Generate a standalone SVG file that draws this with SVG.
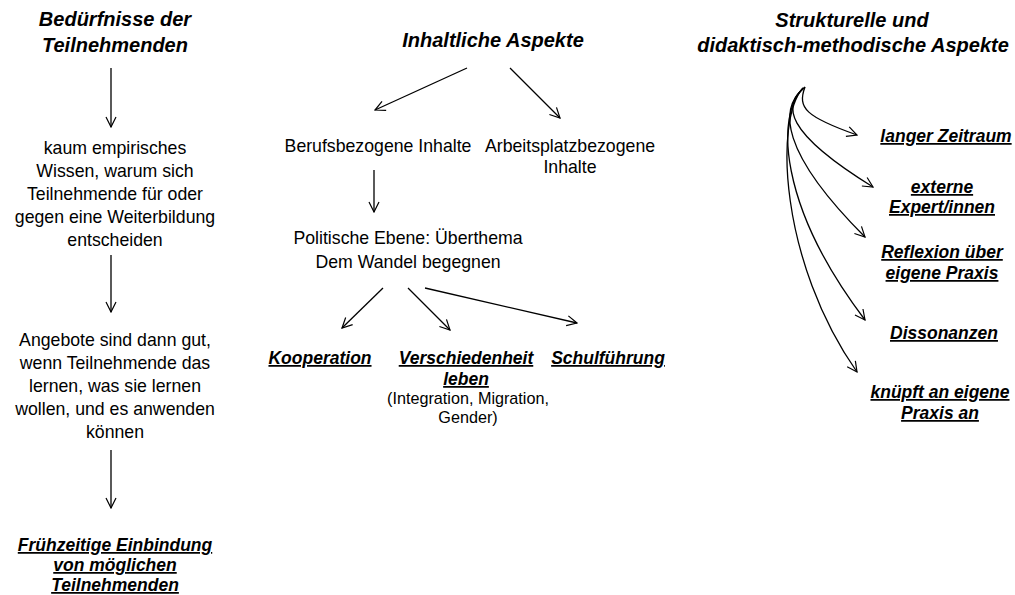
<svg xmlns="http://www.w3.org/2000/svg" width="1015" height="595" viewBox="0 0 1015 595">
<defs>
<marker id="ah" markerUnits="userSpaceOnUse" markerWidth="12" markerHeight="12" viewBox="0 0 12 12" refX="11" refY="6" orient="auto">
<path d="M1,1 L11,6 L1,11" fill="none" stroke="#000" stroke-width="1.2"/>
</marker>
<style>
text{font-family:"Liberation Sans",Arial,sans-serif;fill:#000;text-anchor:middle}
.r{font-size:17.7px}
.s{font-size:16.2px}
.t{font-size:20px;font-weight:bold;font-style:italic}
.b{font-size:17.5px;font-weight:bold;font-style:italic;text-decoration:underline;text-decoration-thickness:1.8px}
.c line,.c path{stroke:#000;stroke-width:1.3;fill:none;marker-end:url(#ah)}
</style>
</defs>
<rect width="1015" height="595" fill="#fff"/>
<g id="title-left"><text class="t" x="115" y="26">Bedürfnisse der</text><text class="t" x="115" y="52">Teilnehmenden</text></g>
<g id="wissen"><text class="r" x="115" y="154">kaum empirisches</text><text class="r" x="115" y="177">Wissen, warum sich</text><text class="r" x="115" y="200">Teilnehmende für oder</text><text class="r" x="115" y="223">gegen eine Weiterbildung</text><text class="r" x="115" y="246">entscheiden</text></g>
<g id="angebote"><text class="r" x="115" y="346">Angebote sind dann gut,</text><text class="r" x="115" y="369">wenn Teilnehmende das</text><text class="r" x="115" y="392">lernen, was sie lernen</text><text class="r" x="115" y="415">wollen, und es anwenden</text><text class="r" x="115" y="438">können</text></g>
<g id="einbindung"><text class="b" x="115" y="551">Frühzeitige Einbindung</text><text class="b" x="115" y="571">von möglichen</text><text class="b" x="115" y="591">Teilnehmenden</text></g>
<g id="title-mid"><text class="t" x="493" y="47">Inhaltliche Aspekte</text></g>
<g id="beruf"><text class="r" x="378" y="152">Berufsbezogene Inhalte</text></g>
<g id="arbeitsplatz"><text class="r" x="570" y="152">Arbeitsplatzbezogene</text><text class="r" x="570" y="173">Inhalte</text></g>
<g id="politisch"><text class="r" x="408" y="244">Politische Ebene: Überthema</text><text class="r" x="408" y="268">Dem Wandel begegnen</text></g>
<g id="kooperation"><text class="b" x="320" y="364">Kooperation</text></g>
<g id="verschiedenheit"><text class="b" x="466" y="364">Verschiedenheit</text><text class="b" x="466" y="385">leben</text><text class="s" x="468" y="404">(Integration, Migration,</text><text class="s" x="468" y="423">Gender)</text></g>
<g id="schulfuehrung"><text class="b" x="608" y="364">Schulführung</text></g>
<g id="title-right"><text class="t" x="852" y="27">Strukturelle und</text><text class="t" x="853" y="52">didaktisch-methodische Aspekte</text></g>
<g id="zeitraum"><text class="b" x="946" y="142">langer Zeitraum</text></g>
<g id="experten"><text class="b" x="942" y="193">externe</text><text class="b" x="942" y="213">Expert/innen</text></g>
<g id="reflexion"><text class="b" x="942" y="258">Reflexion über</text><text class="b" x="942" y="279">eigene Praxis</text></g>
<g id="dissonanzen"><text class="b" x="944" y="339">Dissonanzen</text></g>
<g id="praxis"><text class="b" x="940" y="398">knüpft an eigene</text><text class="b" x="940" y="419">Praxis an</text></g>
<g id="connectors" class="c">
<line x1="111" y1="68" x2="111" y2="127"/>
<line x1="111" y1="255" x2="111" y2="312"/>
<line x1="111" y1="450" x2="111" y2="508"/>
<line x1="467" y1="68" x2="375" y2="110"/>
<line x1="510" y1="68" x2="560" y2="118"/>
<line x1="374" y1="170" x2="374" y2="212"/>
<line x1="383" y1="288" x2="342" y2="328"/>
<line x1="408" y1="288" x2="450" y2="330"/>
<line x1="425" y1="288" x2="577" y2="323"/>
<path d="M805 87 C797 108,806 117,857 135"/>
<path d="M805 87 C782 105,784 132,873 187"/>
<path d="M804 88 C779 108,780 152,865 237"/>
<path d="M803 88 C776 115,778 205,865 320"/>
<path d="M803 88 C774 120,780 262,857 372"/>
</g>
</svg>
